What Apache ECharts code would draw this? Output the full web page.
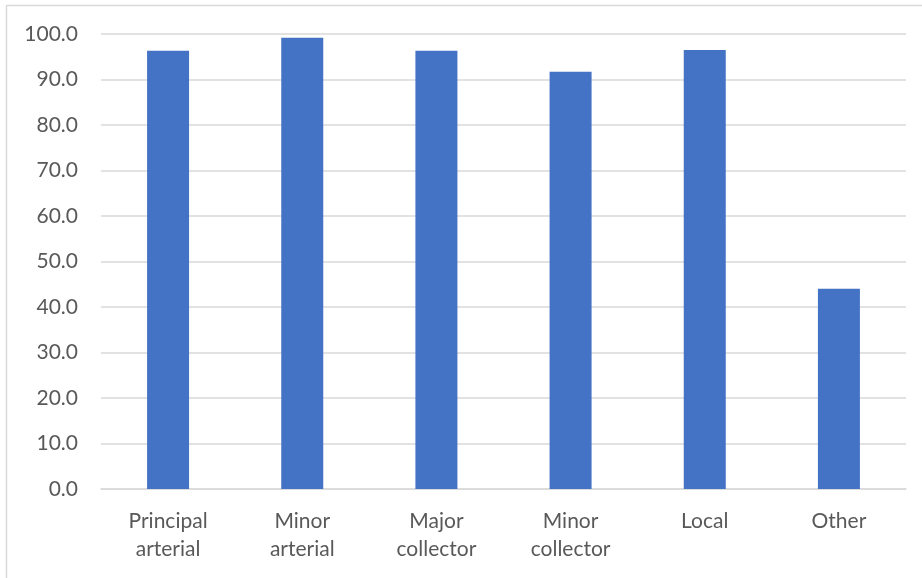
<!DOCTYPE html>
<html>
<head>
<meta charset="utf-8">
<script src="https://cdn.jsdelivr.net/npm/echarts@6/dist/echarts.min.js"></script>
<style>
  html, body { margin: 0; padding: 0; background: #fff; }
  #chart { width: 922px; height: 578px; }
</style>
</head>
<body>
<div id="chart"></div>
<script>
  // road classes and their values
  const categories = ['Principal\narterial', 'Minor\narterial', 'Major\ncollector', 'Minor\ncollector', 'Local', 'Other']
  const values = [96.3, 99.2, 96.3, 91.7, 96.5, 44.0]

  const chart = echarts.init(document.getElementById('chart'))

  const option = {
    animation: false,
    graphic: [{
      type: 'rect',
      shape: { x: 6.5, y: 5.5, width: 940, height: 600 },
      style: { fill: 'none', stroke: '#d9d9d9', lineWidth: 1.5 },
      silent: true,
    }],
    grid: {
      left: 101,
      right: 16,
      top: 34,
      bottom: 89,
    },
    xAxis: {
      type: 'category',
      data: categories,
      axisLine: { lineStyle: { color: '#d9d9d9', width: 1.5 } },
      axisTick: { show: false },
      axisLabel: {
        color: '#595959',
        fontFamily: 'Lato',
        fontSize: 21,
        lineHeight: 28,
        margin: 18,
      },
    },
    yAxis: {
      type: 'value',
      min: 0,
      max: 100,
      interval: 10,
      axisLine: { show: false },
      axisTick: { show: false },
      splitLine: { lineStyle: { color: '#d9d9d9', width: 1.5 } },
      axisLabel: {
        color: '#595959',
        fontFamily: 'Lato',
        fontSize: 21,
        margin: 23,
        formatter: (v) => v.toFixed(1),
      },
    },
    series: [{
      type: 'bar',
      data: values,
      barWidth: 42,
      itemStyle: { color: '#4472c4' },
    }],
  }

  chart.setOption(option)
</script>
</body>
</html>
